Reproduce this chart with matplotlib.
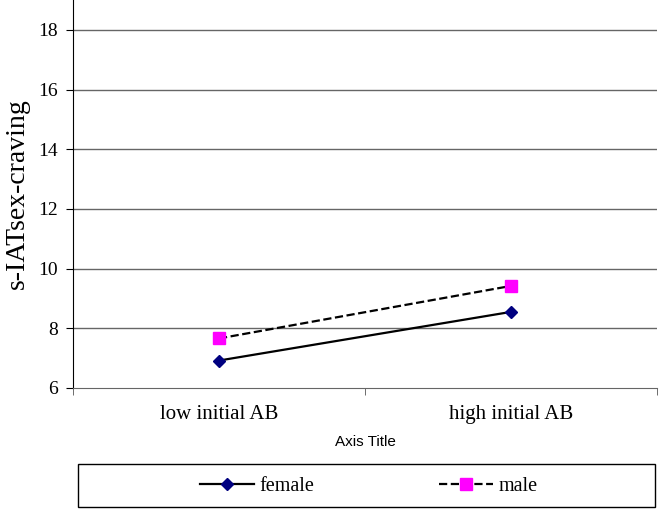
import numpy as np
import matplotlib
matplotlib.use("Agg")
from matplotlib import pyplot as plt
from matplotlib.patches import Rectangle

# data
categories = ["low initial AB", "high initial AB"]
female = [6.92, 8.55]
male = [7.66, 9.42]
y_ticks = [6, 8, 10, 12, 14, 16, 18]

plt.rcParams['font.family'] = ['Liberation Serif', 'DejaVu Serif']

fig = plt.figure(figsize=(6.59, 5.09), dpi=100)
ax = fig.add_axes([73 / 659, 1 - 388 / 509, 584 / 659, 388 / 509])

x = np.arange(len(categories)) + 0.5
ax.plot(x, female, "-", color="black", lw=1.6, marker="D", ms=6,
        mfc="#000080", mec="#000080", label="female", zorder=3)
ax.plot(x, male, "--", color="black", lw=1.6, marker="s", ms=8,
        mfc="#FF00FF", mec="#FF00FF", label="male", zorder=3)

ax.set_xlim(0, 2)
ax.set_ylim(6, 19)
ax.set_yticks(y_ticks)
ax.set_xticks(x)
ax.set_xticklabels(categories, fontsize=15)
ax.set_xticks([0, 1, 2], minor=True)
ax.tick_params(axis="x", which="major", length=0, pad=12)
ax.tick_params(axis="x", which="minor", length=5, direction="out", color="#555555")
ax.tick_params(axis="y", length=5, direction="out", labelsize=14, pad=6)

for yv in y_ticks[1:]:
    ax.axhline(yv, color="#666666", lw=1.0, zorder=1)

ax.spines["top"].set_visible(False)
ax.spines["right"].set_visible(False)
ax.spines["left"].set_color("black")
ax.spines["bottom"].set_color("#666666")

ax.set_ylabel("s-IATsex-craving", fontsize=20, labelpad=6)
ax.set_xlabel("Axis Title", fontsize=11, family="Liberation Sans", labelpad=8)

# legend box across the bottom
fig.patches.append(Rectangle((78 / 659, 1 - 507 / 509), 577 / 659, 43 / 509,
                             transform=fig.transFigure, fill=False,
                             edgecolor="black", lw=1.0))
fig.legend(loc="center", bbox_to_anchor=(369 / 659, 1 - 486 / 509), ncol=2,
           frameon=False, fontsize=14.5, handlelength=2.65, columnspacing=6.2,
           handletextpad=0.3)

plt.savefig("out.png", dpi=100)
